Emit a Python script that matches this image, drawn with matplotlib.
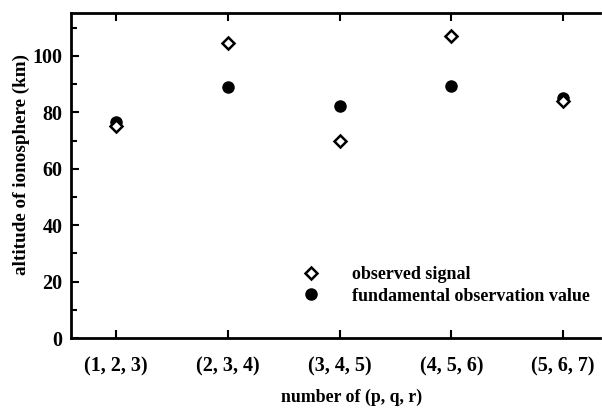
import numpy as np
import matplotlib.pyplot as plt
from matplotlib.ticker import MultipleLocator

plt.rcParams['font.family'] = ['Liberation Serif', 'DejaVu Serif']
plt.rcParams['font.weight'] = 'bold'
plt.rcParams['axes.labelweight'] = 'bold'

# (p, q, r) combinations and ionosphere altitudes in km
labels = ['(1, 2, 3)', '(2, 3, 4)', '(3, 4, 5)', '(4, 5, 6)', '(5, 6, 7)']
observed = [75.0, 104.7, 69.8, 107.2, 84.0]
fundamental = [76.7, 88.8, 82.4, 89.2, 84.9]

x = np.arange(1, len(labels) + 1)

fig = plt.figure(figsize=(6.02, 4.15), dpi=100)
ax = fig.add_axes([71/602, 1 - 338/415, 529/602, 325/415])

ax.plot(x, fundamental, 'o', color='black', markersize=8, zorder=2,
        label='fundamental observation value')
ax.plot(x, observed, 'D', markerfacecolor='white', markeredgecolor='black',
        markeredgewidth=1.8, markersize=6.5, zorder=3, label='observed signal')

ax.set_xlim(0.597, 5.33)
ax.set_ylim(0, 115.2)
ax.set_xticks(x)
ax.set_xticklabels(labels)
ax.yaxis.set_major_locator(MultipleLocator(20))
ax.yaxis.set_minor_locator(MultipleLocator(10))

ax.spines['left'].set_linewidth(2)
ax.spines['bottom'].set_linewidth(2)
ax.spines['top'].set_linewidth(2)
ax.spines['right'].set_visible(False)

ax.tick_params(axis='both', which='both', direction='in', width=1.5)
ax.tick_params(axis='both', which='major', length=6, labelsize=14.5, pad=6)
ax.tick_params(axis='y', which='minor', length=4)
ax.tick_params(axis='x', top=True)
ax.tick_params(axis='x', which='major', pad=13)

ax.set_xlabel('number of (p, q, r)', fontsize=12.8)
ax.set_ylabel('altitude of ionosphere (km)', fontsize=13.8)
ax.xaxis.set_label_coords(0.53, -0.155)
ax.yaxis.set_label_coords(-0.077, 0.535)

handles, names = ax.get_legend_handles_labels()
ax.legend(handles[::-1], names[::-1], loc='lower right', frameon=False,
          fontsize=13, handletextpad=1.3, labelspacing=0.25,
          bbox_to_anchor=(0.995, 0.08), borderaxespad=0)

fig.savefig('out.png', dpi=100)
